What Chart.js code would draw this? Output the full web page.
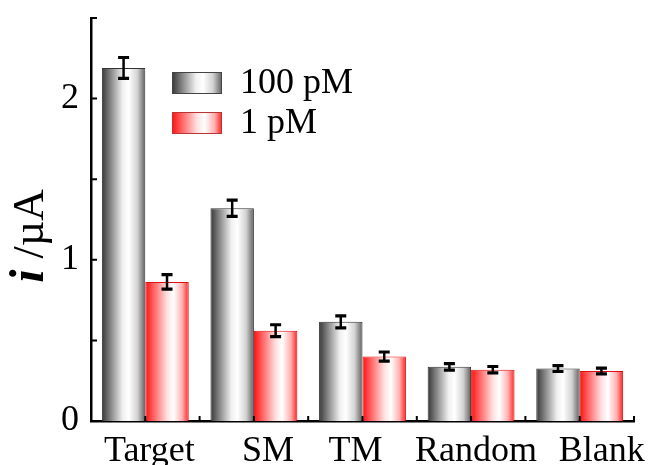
<!DOCTYPE html>
<html>
<head>
<meta charset="utf-8">
<script src="https://cdn.jsdelivr.net/npm/chart.js@4.4.1/dist/chart.umd.min.js"></script>
<style>
  html, body { margin: 0; padding: 0; background: #fff; overflow: hidden; }
  #wrap { width: 651px; height: 465px; }
</style>
</head>
<body>
<div id="wrap"><canvas id="chart" width="651" height="465"></canvas></div>
<script>
// Data
const categories = ['Target', 'SM', 'TM', 'Random', 'Blank'];
const seriesNames = ['100 pM', '1 pM'];
const values100 = [2.19, 1.32, 0.615, 0.336, 0.325];
const errors100 = [0.065, 0.05, 0.037, 0.02, 0.018];
const values1 = [0.863, 0.56, 0.40, 0.318, 0.31];
const errors1 = [0.045, 0.037, 0.028, 0.02, 0.018];
const yTickLabels = [0, 1, 2];
const yMinorTicks = [0.5, 1, 1.5, 2, 2.5];

const FONT = '"Liberation Serif", "Times New Roman", serif';
const CAT_PCT = 0.8;
// the original figure places its category labels a little off centre
const labelShift = [4, 14, -7, 5, 22];

// gradient stops for the two bar styles
const grayStops = [[0, '#363636'], [0.2, '#858585'], [0.48, '#f0f0f0'], [0.62, '#ffffff'], [0.82, '#d2d2d2'], [1, '#5e5e5e']];
const redStops = [[0, '#ff1010'], [0.15, '#ff5050'], [0.5, '#ffe0e0'], [0.65, '#ffffff'], [0.85, '#ffb0b0'], [1, '#ff2020']];

function makeGradient(ctx, x0, x1, stops) {
    const g = ctx.createLinearGradient(x0, 0, x1, 0);
    stops.forEach(([o, c]) => g.addColorStop(o, c));
    return g;
}

// fill each bar with a horizontal gradient based on its position on the x scale
function barFill(stops, side) {
    return (context) => {
        const chart = context.chart;
        const x = chart.scales.x;
        if (!x || !chart.chartArea) return stops[2][1];
        const center = x.getPixelForValue(context.dataIndex);
        const half = (x.right - x.left) / categories.length * CAT_PCT / 2;
        const x0 = side === 0 ? center - half : center;
        return makeGradient(chart.ctx, x0, x0 + half, stops);
    };
}

const errorBars = {
    id: 'errorBars',
    afterDatasetsDraw(chart) {
        const { ctx } = chart;
        const y = chart.scales.y;
        const errs = [errors100, errors1];
        ctx.save();
        ctx.strokeStyle = '#000';
        chart.data.datasets.forEach((ds, di) => {
            chart.getDatasetMeta(di).data.forEach((bar, i) => {
                const top = y.getPixelForValue(ds.data[i] + errs[di][i]);
                const bot = y.getPixelForValue(ds.data[i] - errs[di][i]);
                ctx.lineWidth = 2.5;
                ctx.beginPath();
                ctx.moveTo(bar.x, top); ctx.lineTo(bar.x, bot);
                ctx.stroke();
                ctx.lineWidth = 3.2;
                ctx.beginPath();
                ctx.moveTo(bar.x - 5.5, top); ctx.lineTo(bar.x + 5.5, top);
                ctx.moveTo(bar.x - 5.5, bot); ctx.lineTo(bar.x + 5.5, bot);
                ctx.stroke();
            });
        });
        ctx.restore();
    }
};

// inward tick marks, category labels, legend and y title
const decorations = {
    id: 'decorations',
    afterDraw(chart) {
        const { ctx } = chart;
        const x = chart.scales.x;
        const y = chart.scales.y;
        const area = chart.chartArea;
        ctx.save();
        ctx.strokeStyle = '#000';
        ctx.lineWidth = 2;
        ctx.beginPath();
        yMinorTicks.forEach(v => {
            const py = y.getPixelForValue(v);
            ctx.moveTo(area.left, py); ctx.lineTo(area.left + 6, py);
        });
        const step = (x.right - x.left) / categories.length;
        categories.forEach((c, i) => {
            const px = x.getPixelForValue(i);
            ctx.moveTo(px, area.bottom); ctx.lineTo(px, area.bottom - 5);
            ctx.moveTo(px + step / 2, area.bottom); ctx.lineTo(px + step / 2, area.bottom - 5);
        });
        ctx.stroke();

        // category labels
        ctx.fillStyle = '#000';
        ctx.font = '36px ' + FONT;
        ctx.textAlign = 'center';
        ctx.textBaseline = 'alphabetic';
        categories.forEach((c, i) => {
            ctx.fillText(c, x.getPixelForValue(i) + labelShift[i], area.bottom + 40);
        });

        // legend
        const lx = 172, ly = [72, 112], bw = 50, bh = 22;
        const stops = [grayStops, redStops];
        seriesNames.forEach((name, i) => {
            ctx.fillStyle = makeGradient(ctx, lx, lx + bw, stops[i]);
            ctx.fillRect(lx, ly[i], bw, bh);
            ctx.lineWidth = 1;
            ctx.strokeStyle = i === 0 ? '#444' : '#b33';
            ctx.strokeRect(lx + 0.5, ly[i] + 0.5, bw - 1, bh - 1);
            ctx.fillStyle = '#000';
            ctx.font = '36px ' + FONT;
            ctx.textBaseline = 'middle';
            ctx.textAlign = 'left';
            ctx.fillText(name, 240, ly[i] + bh / 2 + 1);
        });

        // y axis title: italic bold i, then /µA
        ctx.translate(31, 236);
        ctx.rotate(-Math.PI / 2);
        const f1 = 'italic bold 48px ' + FONT;
        const f2 = '44px ' + FONT;
        ctx.font = f1;
        const w1 = ctx.measureText('i').width;
        ctx.font = f2;
        const w2 = ctx.measureText(' /\u00B5A').width;
        let sx = -(w1 + w2) / 2;
        ctx.textBaseline = 'middle';
        ctx.font = f1;
        ctx.fillText('i', sx, 0);
        ctx.font = f2;
        ctx.fillText(' /\u00B5A', sx + w1, 0);
        ctx.restore();
    }
};

const chart = new Chart(document.getElementById('chart'), {
    type: 'bar',
    data: {
        labels: categories,
        datasets: [{
            label: seriesNames[0],
            data: values100,
            backgroundColor: barFill(grayStops, 0),
            borderColor: '#333',
            borderWidth: 1,
            categoryPercentage: CAT_PCT,
            barPercentage: 1.0
        }, {
            label: seriesNames[1],
            data: values1,
            backgroundColor: barFill(redStops, 1),
            borderColor: '#e01010',
            borderWidth: 1,
            categoryPercentage: CAT_PCT,
            barPercentage: 1.0
        }]
    },
    options: {
        responsive: false,
        animation: false,
        layout: { padding: { top: 18, right: 17, left: 0, bottom: 0 } },
        plugins: {
            legend: { display: false },
            tooltip: { enabled: false }
        },
        scales: {
            x: {
                grid: { display: false, drawTicks: false },
                border: { display: true, color: '#000', width: 2.5 },
                ticks: { display: false },
                afterFit: (scale) => {
                    scale.height = 44;
                    scale.paddingLeft = 0;
                    scale.paddingRight = 0;
                }
            },
            y: {
                min: 0,
                max: 2.5,
                grid: { display: false, drawTicks: false },
                border: { display: true, color: '#000', width: 2.5 },
                ticks: {
                    color: '#000',
                    padding: 12,
                    font: { family: FONT, size: 36 }
                },
                afterBuildTicks: (scale) => {
                    scale.ticks = yTickLabels.map(v => ({ value: v }));
                },
                afterFit: (scale) => {
                    scale.width = 91;
                    scale.paddingTop = 0;
                    scale.paddingBottom = 0;
                }
            }
        }
    },
    plugins: [errorBars, decorations]
});
</script>
</body>
</html>
